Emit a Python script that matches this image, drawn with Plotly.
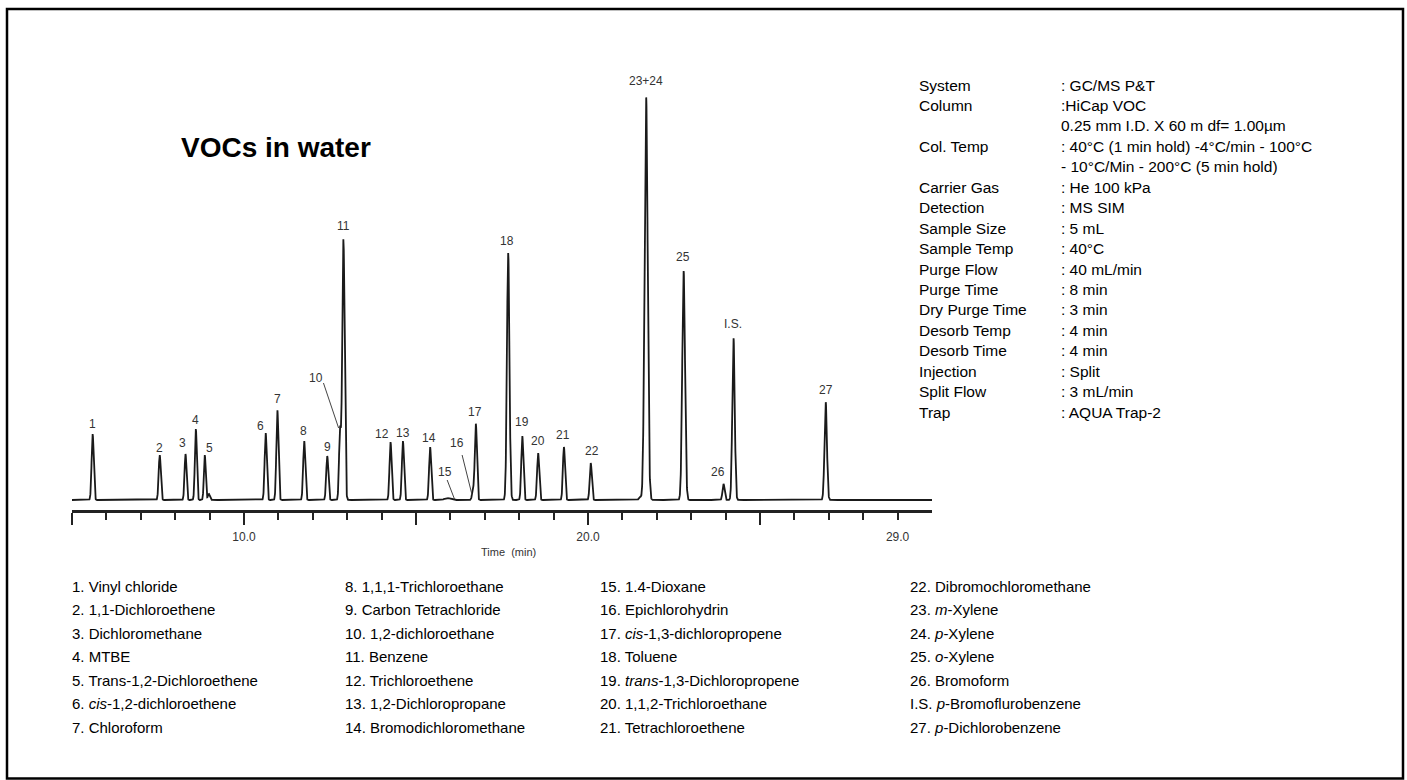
import numpy as np
import plotly.graph_objects as go

W, H = 1407, 780

# ---------------- data ----------------
peak_labels = ['1', '2', '3', '4', '5', '6', '7', '8', '9', '10', '11', '12', '13', '14',
               '15', '16', '17', '18', '19', '20', '21', '22', '23+24', '25', '26', 'I.S.', '27']
peak_times = [5.60, 7.55, 8.30, 8.60, 8.86, 10.63, 10.97, 11.75, 12.42, 12.79, 12.89, 14.26,
              14.62, 15.41, 15.91, 16.66, 16.74, 17.68, 18.09, 18.55, 19.30, 20.08, 21.69,
              22.78, 23.94, 24.23, 26.91]
peak_heights = [66, 45, 46, 71, 45, 67, 90, 59, 44, 69, 261, 58, 59, 53, 2, 10, 76, 247, 64,
                47, 53, 37, 403, 229, 16, 162, 98]
peak_sigmas = [0.03, 0.03, 0.028, 0.028, 0.026, 0.03, 0.03, 0.03, 0.03, 0.028, 0.035, 0.03,
               0.03, 0.03, 0.08, 0.03, 0.03, 0.036, 0.03, 0.03, 0.03, 0.03, 0.045, 0.04,
               0.03, 0.035, 0.035]
minor_times = [8.98, 21.51]
minor_heights = [6, 3.5]

# label centres (time, signal units)
label_x = [5.598, 7.552, 8.211, 8.598, 8.984, 10.485, 10.970, 11.725, 12.422, 12.082, 12.880,
           13.998, 14.617, 15.392, 15.857, 16.196, 16.728, 17.648, 18.084, 18.537, 19.274,
           20.116, 21.684, 22.776, 23.775, 24.228, 26.911]
label_y = [75.7, 51.7, 56.7, 80, 51.7, 74, 101, 69.3, 53.3, 122.3, 274, 65.7, 67.3, 62.3,
           27.7, 57.3, 88.3, 259, 77.7, 59.3, 65, 49.3, 419.3, 242.7, 28.3, 175.7, 110]

axis_label_vals = [10, 20, 29]
axis_label_text = ['10.0', '20.0', '29.0']
major_ticks = [5, 10, 15, 20, 25]
minor_ticks = [m for m in range(6, 30) if m not in major_ticks]

info_keys = ['System', 'Column', '', 'Col. Temp', '', 'Carrier Gas', 'Detection', 'Sample Size',
             'Sample Temp', 'Purge Flow', 'Purge Time', 'Dry Purge Time', 'Desorb Temp',
             'Desorb Time', 'Injection', 'Split Flow', 'Trap']
info_vals = [': GC/MS P&T', ':HiCap VOC', '0.25 mm I.D. X 60 m df= 1.00µm',
             ': 40°C (1 min hold) -4°C/min - 100°C', '- 10°C/Min - 200°C (5 min hold)',
             ': He 100 kPa', ': MS SIM', ': 5 mL', ': 40°C', ': 40 mL/min', ': 8 min', ': 3 min',
             ': 4 min', ': 4 min', ': Split', ': 3 mL/min', ': AQUA Trap-2']

legend_col1 = ['1. Vinyl chloride', '2. 1,1-Dichloroethene', '3. Dichloromethane', '4. MTBE',
               '5. Trans-1,2-Dichloroethene', '6. <i>cis</i>-1,2-dichloroethene', '7. Chloroform']
legend_col2 = ['8. 1,1,1-Trichloroethane', '9. Carbon Tetrachloride', '10. 1,2-dichloroethane',
               '11. Benzene', '12. Trichloroethene', '13. 1,2-Dichloropropane',
               '14. Bromodichloromethane']
legend_col3 = ['15. 1.4-Dioxane', '16. Epichlorohydrin', '17. <i>cis</i>-1,3-dichloropropene',
               '18. Toluene', '19. <i>trans</i>-1,3-Dichloropropene', '20. 1,1,2-Trichloroethane',
               '21. Tetrachloroethene']
legend_col4 = ['22. Dibromochloromethane', '23. <i>m</i>-Xylene', '24. <i>p</i>-Xylene',
               '25. <i>o</i>-Xylene', '26. Bromoform', 'I.S. <i>p</i>-Bromoflurobenzene',
               '27. <i>p</i>-Dichlorobenzene']

# ---------------- signal ----------------
t = np.arange(5.0, 30.0001, 0.004)
sig = np.zeros_like(t)
for t0, h, s in zip(peak_times, peak_heights, peak_sigmas):
    sig += h * np.exp(-0.5 * ((t - t0) / s) ** 2)
for t0, h in zip(minor_times, minor_heights):
    sig += h * np.exp(-0.5 * ((t - t0) / 0.03) ** 2)

# ---------------- layout helpers ----------------
L, R, T, B = 72, 475, 80, 270
PW, PH = W - L - R, H - T - B


def px(x):
    return (x - L) / PW


def py(y):
    return (H - B - y) / PH


FONT = 'Arial, Liberation Sans, Helvetica, sans-serif'

fig = go.Figure()
fig.add_trace(go.Scatter(x=t, y=sig, mode='lines', line=dict(color='#1a1a1a', width=1.8),
                         hoverinfo='skip', showlegend=False))
fig.add_trace(go.Scatter(x=axis_label_vals, y=[0] * 3, xaxis='x2', mode='markers',
                         marker=dict(opacity=0), hoverinfo='skip', showlegend=False))

ann = []
for lab, lx, ly in zip(peak_labels, label_x, label_y):
    ann.append(dict(x=lx, y=ly, xref='x', yref='y', text=lab, showarrow=False,
                    font=dict(family=FONT, size=12, color='#333'),
                    xanchor='center', yanchor='middle'))

ann.append(dict(x=px(509), y=py(552), xref='paper', yref='paper', text='Time  (min)',
                showarrow=False, font=dict(family=FONT, size=11, color='#333'),
                xanchor='center', yanchor='middle'))

ann.append(dict(x=px(179), y=py(147), xref='paper', yref='paper', text='<b>VOCs in water</b>',
                showarrow=False, font=dict(family=FONT, size=28, color='#000'),
                xanchor='left', yanchor='middle'))

for i, (k, v) in enumerate(zip(info_keys, info_vals)):
    yy = py(85 + 20.45 * i)
    if k:
        ann.append(dict(x=px(917), y=yy, xref='paper', yref='paper', text=k, showarrow=False,
                        font=dict(family=FONT, size=15.5, color='#000'),
                        xanchor='left', yanchor='middle'))
    ann.append(dict(x=px(1059), y=yy, xref='paper', yref='paper', text=v, showarrow=False,
                    font=dict(family=FONT, size=15.5, color='#000'),
                    xanchor='left', yanchor='middle'))

for cx, col in zip([70, 343, 598, 908], [legend_col1, legend_col2, legend_col3, legend_col4]):
    for j, txt in enumerate(col):
        ann.append(dict(x=px(cx), y=py(586 + 23.5 * j), xref='paper', yref='paper', text=txt,
                        showarrow=False, font=dict(family=FONT, size=15, color='#000'),
                        xanchor='left', yanchor='middle'))

shapes = [
    dict(type='line', xref='x', yref='y', x0=12.31, y0=117, x1=12.75, y1=72,
         line=dict(color='#444', width=1)),
    dict(type='line', xref='x', yref='y', x0=15.906, y0=20, x1=16.118, y1=1,
         line=dict(color='#444', width=1)),
    dict(type='line', xref='x', yref='y', x0=16.34, y0=45, x1=16.63, y1=5,
         line=dict(color='#444', width=1)),
    dict(type='rect', xref='paper', yref='paper', x0=px(7), x1=px(1403), y0=py(9), y1=py(778.5),
         line=dict(color='#000', width=2.5), fillcolor='rgba(0,0,0,0)', layer='above'),
]

fig.update_layout(
    width=W, height=H,
    margin=dict(l=L, r=R, t=T, b=B, autoexpand=False),
    paper_bgcolor='white', plot_bgcolor='white',
    showlegend=False,
    xaxis=dict(range=[5, 30], showgrid=False, zeroline=False, showline=True, linewidth=2.5,
               linecolor='#222', ticks='outside', tickmode='array', tickvals=major_ticks,
               ticklen=12, tickwidth=2, tickcolor='#222', showticklabels=False,
               minor=dict(tickmode='array', tickvals=minor_ticks, ticks='outside', ticklen=7,
                          tickwidth=1.5, tickcolor='#222', showgrid=False)),
    xaxis2=dict(range=[5, 30], overlaying='x', anchor='y', side='bottom', showgrid=False,
                zeroline=False, showline=False, tickmode='array', tickvals=axis_label_vals,
                ticktext=axis_label_text, ticks='outside', ticklen=16,
                tickcolor='rgba(0,0,0,0)', tickfont=dict(family=FONT, size=12, color='#333')),
    yaxis=dict(range=[-10, 420], visible=False, showgrid=False, zeroline=False),
    annotations=ann,
    shapes=shapes,
)

fig.write_html('out.html', config={'displayModeBar': False},
               post_script="document.body.style.margin='0';document.body.style.overflow='hidden';")
